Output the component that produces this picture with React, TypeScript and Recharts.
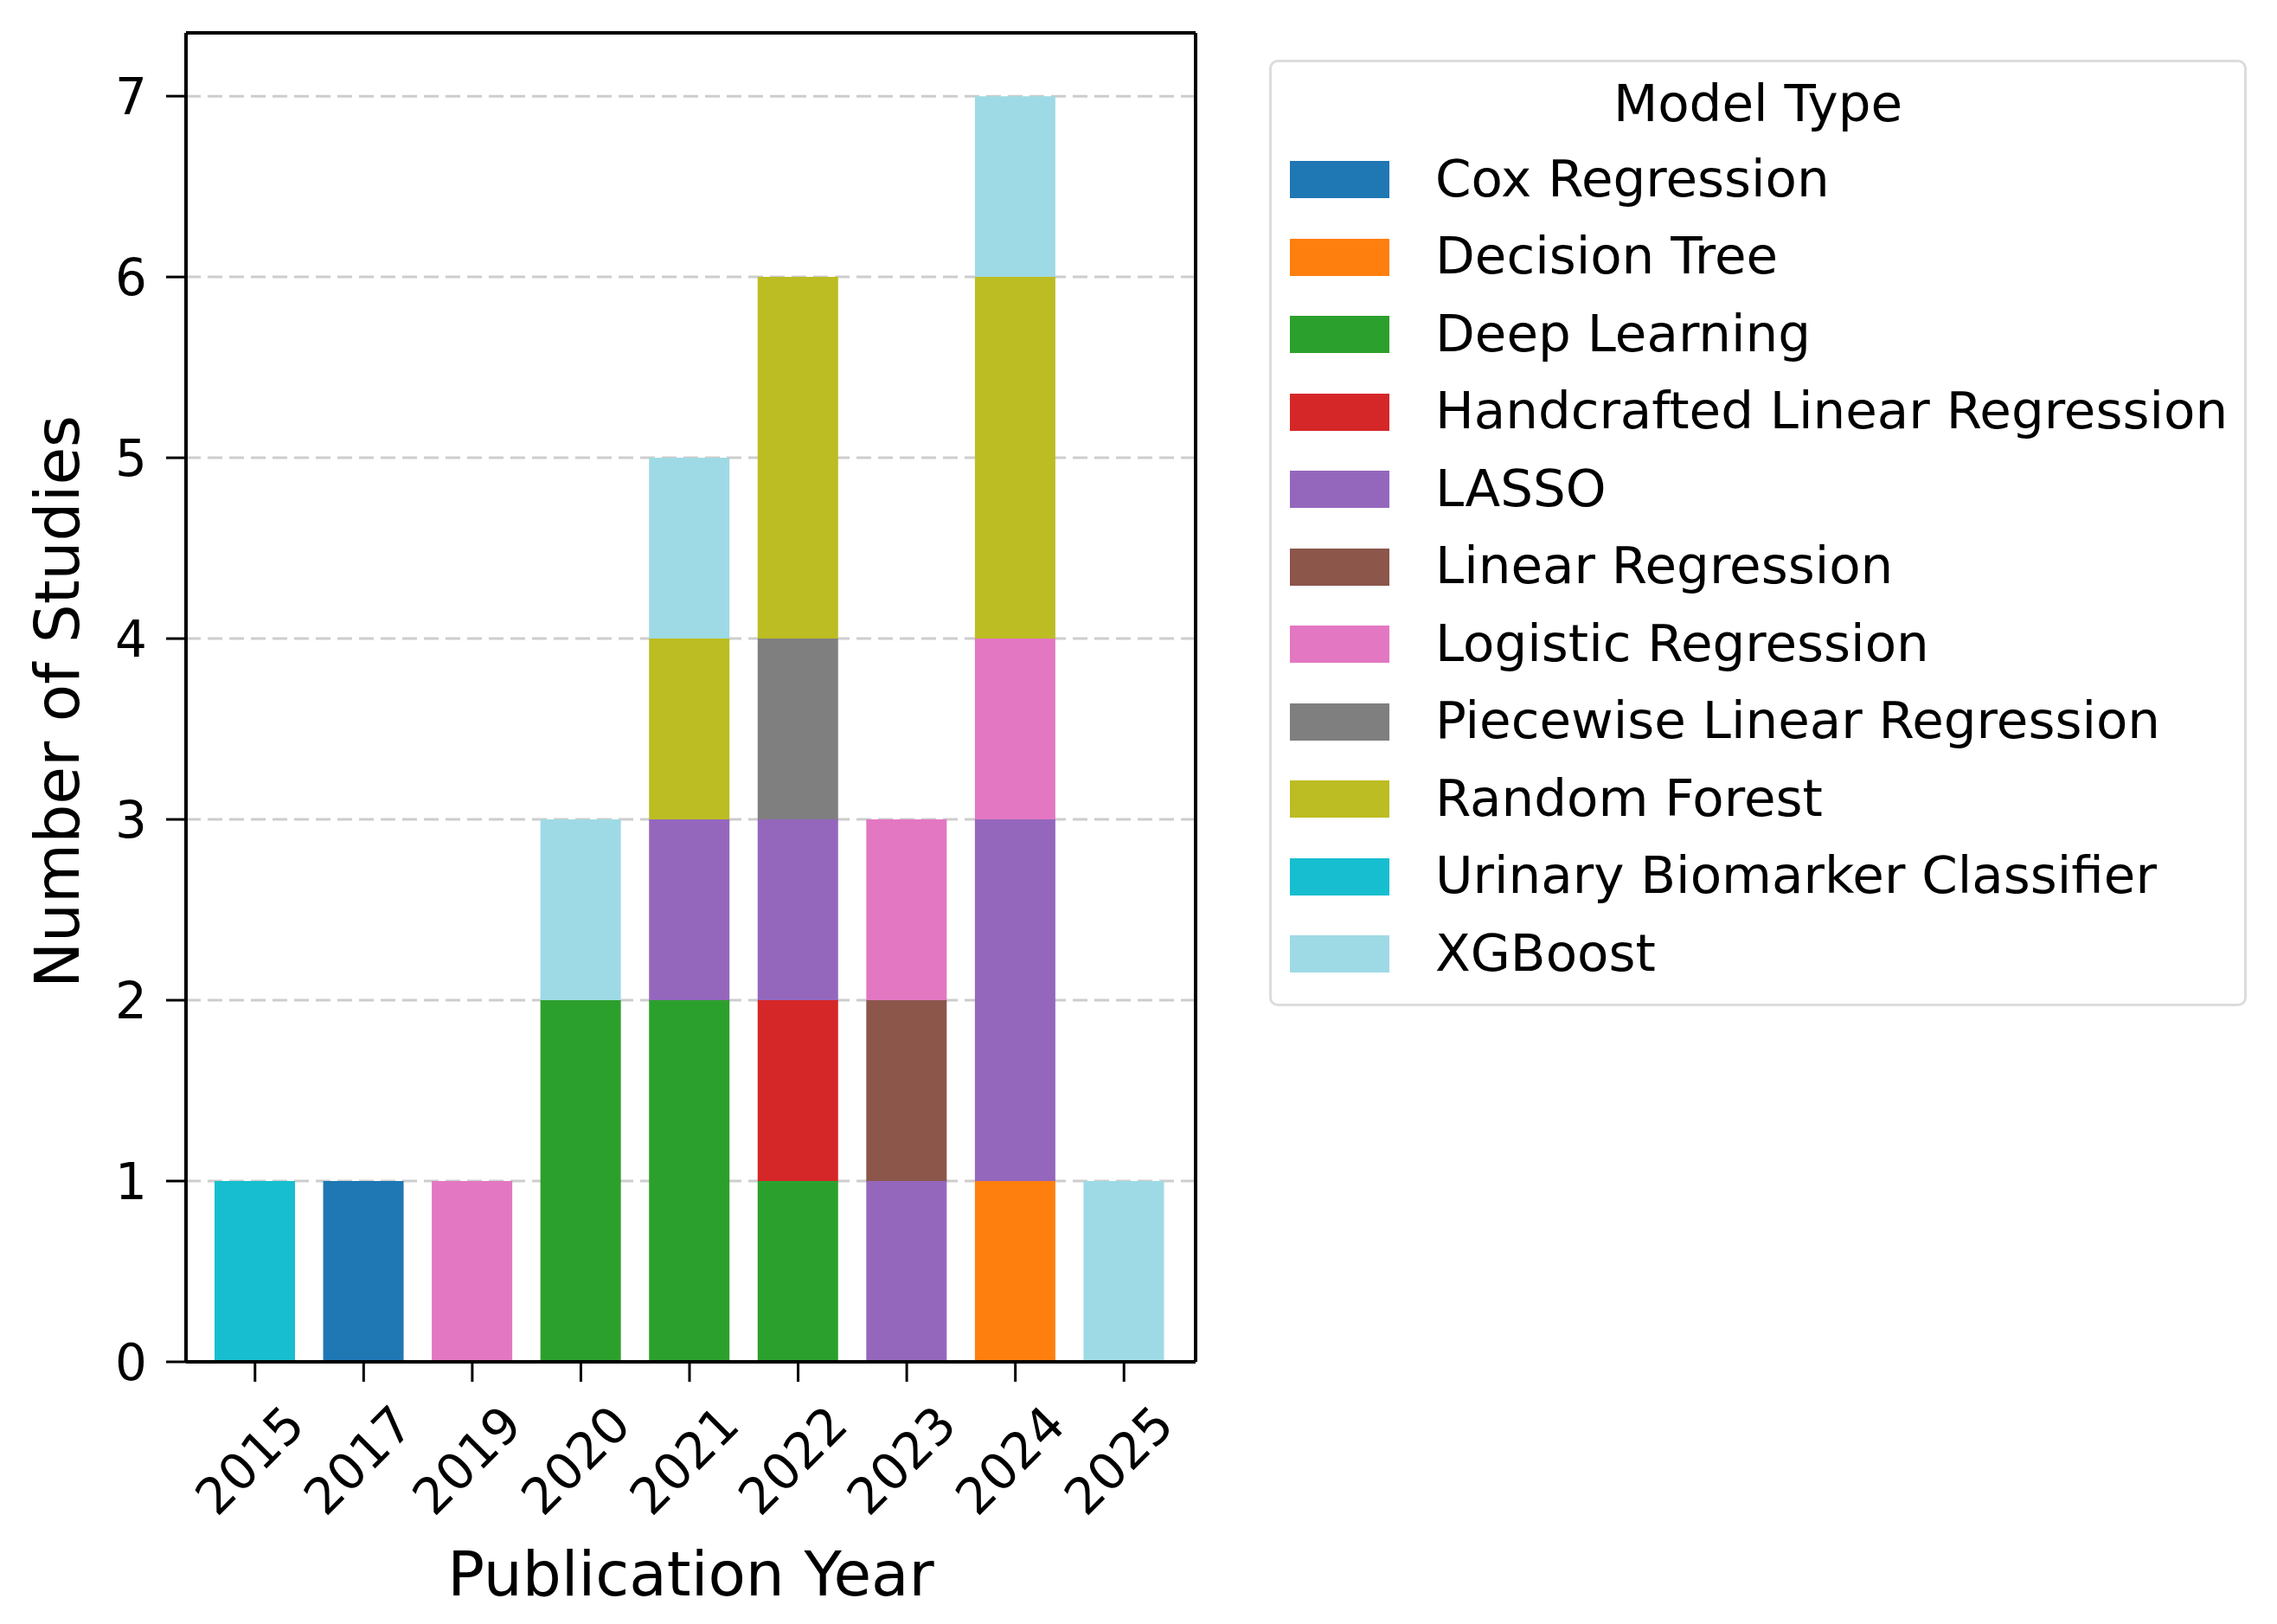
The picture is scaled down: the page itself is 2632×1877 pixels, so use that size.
import React from 'react';
import {
  BarChart,
  Bar,
  XAxis,
  YAxis,
  CartesianGrid,
  Legend,
  Label,
} from 'recharts';

const FONT = '"DejaVu Sans", sans-serif';

// publication years on the x axis
const YEARS = ['2015', '2017', '2019', '2020', '2021', '2022', '2023', '2024', '2025'];

// studies per year, one array per model type (same order as YEARS)
const COX_REGRESSION = [0, 1, 0, 0, 0, 0, 0, 0, 0];
const DECISION_TREE = [0, 0, 0, 0, 0, 0, 0, 1, 0];
const DEEP_LEARNING = [0, 0, 0, 2, 2, 1, 0, 0, 0];
const HANDCRAFTED_LR = [0, 0, 0, 0, 0, 1, 0, 0, 0];
const LASSO = [0, 0, 0, 0, 1, 1, 1, 2, 0];
const LINEAR_REGRESSION = [0, 0, 0, 0, 0, 0, 1, 0, 0];
const LOGISTIC_REGRESSION = [0, 0, 1, 0, 0, 0, 1, 1, 0];
const PIECEWISE_LR = [0, 0, 0, 0, 0, 1, 0, 0, 0];
const RANDOM_FOREST = [0, 0, 0, 0, 1, 2, 0, 2, 0];
const URINARY_BIOMARKER = [1, 0, 0, 0, 0, 0, 0, 0, 0];
const XGBOOST = [0, 0, 0, 1, 1, 0, 0, 1, 1];

const Y_TICKS = [0, 1, 2, 3, 4, 5, 6, 7];

const MODELS = [
  { name: 'Cox Regression', values: COX_REGRESSION, color: '#1f77b4' },
  { name: 'Decision Tree', values: DECISION_TREE, color: '#ff7f0e' },
  { name: 'Deep Learning', values: DEEP_LEARNING, color: '#2ca02c' },
  { name: 'Handcrafted Linear Regression', values: HANDCRAFTED_LR, color: '#d62728' },
  { name: 'LASSO', values: LASSO, color: '#9467bd' },
  { name: 'Linear Regression', values: LINEAR_REGRESSION, color: '#8c564b' },
  { name: 'Logistic Regression', values: LOGISTIC_REGRESSION, color: '#e377c2' },
  { name: 'Piecewise Linear Regression', values: PIECEWISE_LR, color: '#7f7f7f' },
  { name: 'Random Forest', values: RANDOM_FOREST, color: '#bcbd22' },
  { name: 'Urinary Biomarker Classifier', values: URINARY_BIOMARKER, color: '#17becf' },
  { name: 'XGBoost', values: XGBOOST, color: '#9edae5' },
];

const data = YEARS.map((year, i) => {
  const row: Record<string, string | number> = { year };
  MODELS.forEach((m) => {
    row[m.name] = m.values[i];
  });
  return row;
});

function YearTick({ x, y, payload }: any) {
  const cx = x - 6;
  return (
    <text
      x={cx}
      y={y}
      textAnchor="middle"
      dominantBaseline="central"
      transform={`rotate(-45, ${cx}, ${y})`}
      fontSize={58}
      fontFamily={FONT}
      fill="#000"
    >
      {payload.value}
    </text>
  );
}

function LegendBox({ payload }: any) {
  const items = (payload || []).filter((p: any) => p.type !== 'none');
  return (
    <div
      style={{
        position: 'relative',
        width: 1130,
        height: 1094,
        boxSizing: 'border-box',
        border: '3px solid #dcdcdc',
        borderRadius: 10,
        background: '#fff',
        fontFamily: FONT,
        color: '#000',
      }}
    >
      <div
        style={{
          position: 'absolute',
          left: 0,
          right: 0,
          top: 51 - 40,
          height: 74,
          lineHeight: '74px',
          textAlign: 'center',
          fontSize: 59.5,
          whiteSpace: 'nowrap',
        }}
      >
        Model Type
      </div>
      {items.map((item: any, i: number) => {
        const cy = 138.5 + i * 89.5 - 3;
        return (
          <div key={item.value}>
            <div
              style={{
                position: 'absolute',
                left: 21,
                top: cy - 21.5,
                width: 115,
                height: 43,
                background: item.color,
              }}
            />
            <div
              style={{
                position: 'absolute',
                left: 189,
                top: cy - 38,
                height: 74,
                lineHeight: '74px',
                fontSize: 59.5,
                whiteSpace: 'nowrap',
              }}
            >
              {item.value}
            </div>
          </div>
        );
      })}
    </div>
  );
}

export default function App() {
  return (
    <div style={{ position: 'absolute', left: 0, top: 0, width: 2632, height: 1877, background: '#fff' }}>
      <BarChart
        width={2632}
        height={1877}
        data={data}
        margin={{ top: 37, right: 1249, bottom: 83, left: 65 }}
        barSize={93}
      >
        <CartesianGrid
          horizontal
          vertical={false}
          stroke="#cdcdcd"
          strokeWidth={3}
          strokeDasharray="17 8"
        />
        <XAxis
          dataKey="year"
          type="category"
          interval={0}
          height={220}
          padding={{ left: 17, right: 20 }}
          tickSize={23}
          tickMargin={91}
          axisLine={{ stroke: '#000', strokeWidth: 4 }}
          tickLine={{ stroke: '#000', strokeWidth: 3 }}
          tick={<YearTick />}
        >
          <Label
            content={({ viewBox }: any) => (
              <text
                x={viewBox.x + viewBox.width / 2}
                y={viewBox.y + 270}
                textAnchor="middle"
                fontSize={71}
                fontFamily={FONT}
                fill="#000"
              >
                Publication Year
              </text>
            )}
          />
        </XAxis>
        <XAxis
          xAxisId="top"
          orientation="top"
          dataKey="year"
          height={1}
          tick={false}
          tickLine={false}
          axisLine={{ stroke: '#000', strokeWidth: 4 }}
        />
        <YAxis
          width={150}
          domain={[0, 7.35]}
          ticks={Y_TICKS}
          allowDataOverflow
          tickSize={23}
          tickMargin={22}
          axisLine={{ stroke: '#000', strokeWidth: 4 }}
          tickLine={{ stroke: '#000', strokeWidth: 3 }}
          tick={{ fontSize: 58, fill: '#000', fontFamily: FONT }}
        >
          <Label
            content={({ viewBox }: any) => {
              const cx = viewBox.x + 1;
              const cy = viewBox.y + viewBox.height / 2 + 5;
              return (
                <text
                  x={cx}
                  y={cy}
                  textAnchor="middle"
                  dominantBaseline="central"
                  transform={`rotate(-90, ${cx}, ${cy})`}
                  fontSize={71}
                  fontFamily={FONT}
                  fill="#000"
                >
                  Number of Studies
                </text>
              );
            }}
          />
        </YAxis>
        <YAxis
          yAxisId="right"
          orientation="right"
          width={1}
          domain={[0, 7.35]}
          ticks={Y_TICKS}
          tick={false}
          tickLine={false}
          axisLine={{ stroke: '#000', strokeWidth: 4 }}
        />
        <Legend
          layout="vertical"
          align="center"
          verticalAlign="middle"
          wrapperStyle={{ left: 1467, top: 69, width: 1130, height: 1094 }}
          content={<LegendBox />}
        />
        {MODELS.map((m) => (
          <Bar
            key={m.name}
            dataKey={m.name}
            name={m.name}
            stackId="studies"
            fill={m.color}
            isAnimationActive={false}
          />
        ))}
      </BarChart>
    </div>
  );
}
